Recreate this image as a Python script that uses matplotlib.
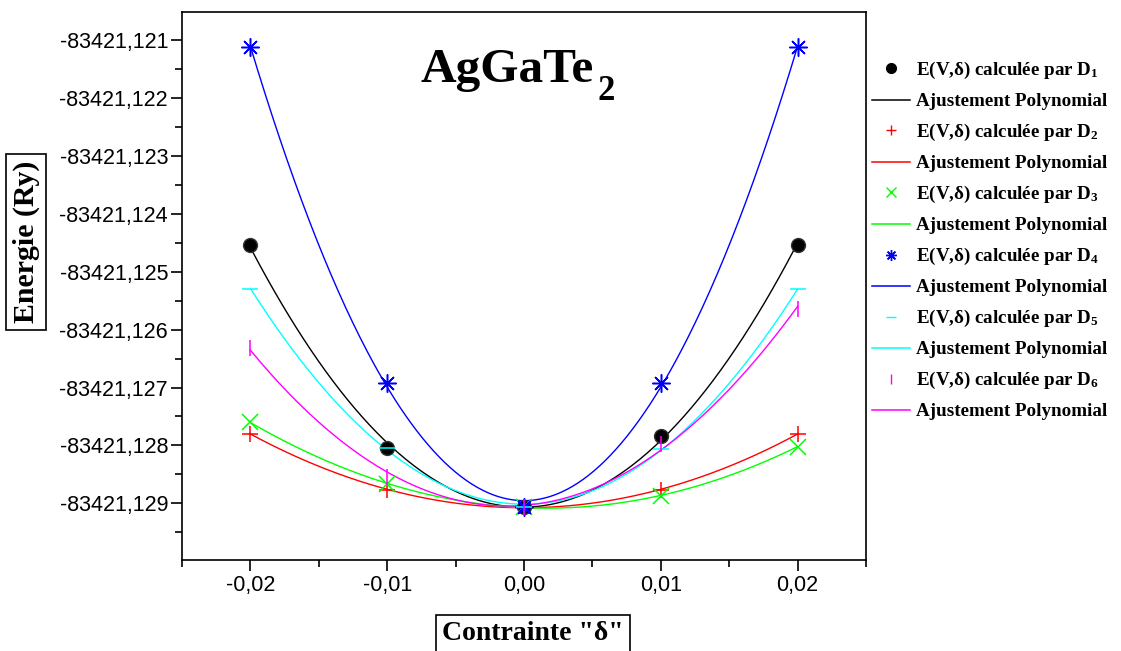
import numpy as np
import matplotlib
matplotlib.use("Agg")
import matplotlib.pyplot as plt
from matplotlib.ticker import MultipleLocator, FuncFormatter
from matplotlib.lines import Line2D

plt.rcParams['mathtext.fontset'] = 'custom'
plt.rcParams['mathtext.rm'] = 'Liberation Serif'
plt.rcParams['mathtext.bf'] = 'Liberation Serif:bold'
plt.rcParams['mathtext.it'] = 'Liberation Serif:italic'

# contrainte delta
delta = [-0.02, -0.01, 0.00, 0.01, 0.02]

# energies (Ry) for each deformation D1..D6
E_D1 = [-83421.12454, -83421.12804, -83421.12906, -83421.12784, -83421.12454]
E_D2 = [-83421.12780, -83421.12877, -83421.12906, -83421.12877, -83421.12780]
E_D3 = [-83421.12760, -83421.12867, -83421.12906, -83421.12887, -83421.12802]
E_D4 = [-83421.12112, -83421.12692, -83421.12906, -83421.12692, -83421.12112]
E_D5 = [-83421.12530, -83421.12804, -83421.12906, -83421.12807, -83421.12530]
E_D6 = [-83421.12631, -83421.12854, -83421.12906, -83421.12797, -83421.12565]

series = [E_D1, E_D2, E_D3, E_D4, E_D5, E_D6]
colors = ['black', '#ff0000', '#00ff00', '#0000ff', '#00ffff', '#ff00ff']
markers = ['o', '+', 'x', (8, 2, 0), '_', '|']
msizes = [10, 11, 11, 13, 12, 12]

fig = plt.figure(figsize=(11.21, 6.51), dpi=100)
ax = fig.add_axes([182 / 1121, 1 - 560 / 651, (866 - 182) / 1121, (560 - 12) / 651])

xs = np.linspace(-0.02, 0.02, 300)
handles = []
for i, (E, c, m, ms) in enumerate(zip(series, colors, markers, msizes)):
    coef = np.polyfit(delta, np.array(E) + 83421.0, 2)
    ax.plot(xs, np.polyval(coef, xs) - 83421.0, color=c, lw=1.0)
    if m == 'o':
        ax.plot(delta, E, ls='none', marker='o', ms=ms, mfc='black', mec='#333333', zorder=5)
    else:
        ax.plot(delta, E, ls='none', marker=m, ms=ms, mec=c, mfc=c, mew=1.1, zorder=5)
    handles.append(Line2D([], [], ls='none', marker=m, color=c, ms=ms * 0.6 if m != 'o' else 7, mew=1.0))
    handles.append(Line2D([], [], color=c, lw=1.1))

labels = []
for k in range(1, 7):
    labels.append(r'E(V,δ) calculée par D$_\mathbf{%d}$' % k)
    labels.append('Ajustement Polynomial')

ax.set_xlim(-0.025, 0.025)
ax.set_ylim(-83421.12998, -83421.12051)

ax.xaxis.set_major_locator(MultipleLocator(0.01))
ax.xaxis.set_minor_locator(MultipleLocator(0.005))
ax.yaxis.set_major_locator(MultipleLocator(0.001))
ax.yaxis.set_minor_locator(MultipleLocator(0.0005))


def fx(v, pos):
    if abs(v) < 1e-9:
        v = 0.0
    return f"{v:.2f}".replace('.', ',')


def fy(v, pos):
    return f"{v:.3f}".replace('.', ',')


ax.xaxis.set_major_formatter(FuncFormatter(fx))
ax.yaxis.set_major_formatter(FuncFormatter(fy))
ax.tick_params(which='both', direction='out', top=False, right=False, width=1.2)
ax.tick_params(which='major', length=8, labelsize=15.5)
ax.tick_params(axis='y', which='major', pad=2)
ax.tick_params(axis='x', which='major', pad=3)
ax.tick_params(which='minor', length=5)
for lab in ax.get_xticklabels() + ax.get_yticklabels():
    lab.set_fontfamily('Liberation Sans')
for s in ax.spines.values():
    s.set_linewidth(1.2)

box = dict(boxstyle='square,pad=0.22', fc='white', ec='black', lw=1.2)
ax.set_ylabel('Energie (Ry)', fontfamily='Liberation Serif', fontweight='bold',
              fontsize=21.5, bbox=box)
ax.yaxis.set_label_coords(-0.208, 0.58)
ax.set_xlabel('Contrainte "δ"', fontfamily='Liberation Serif', fontweight='bold',
              fontsize=20, bbox=box)
ax.xaxis.set_label_coords(0.513, -0.112)

ax.text(0.348, 0.872, 'AgGaTe', transform=ax.transAxes, ha='left', va='baseline',
        fontfamily='Liberation Serif', fontweight='bold', fontsize=35.5)
ax.text(0.607, 0.84, '2', transform=ax.transAxes, ha='left', va='baseline',
        fontfamily='Liberation Serif', fontweight='bold', fontsize=25)

fig.legend(handles, labels, loc='upper left', bbox_to_anchor=(872 / 1121, 1 - 60 / 651),
           frameon=False, borderpad=0, borderaxespad=0, handlelength=2.0, handletextpad=0.3,
           labelspacing=0.62, prop={'family': 'Liberation Serif', 'weight': 'bold', 'size': 13.7})

fig.savefig('out.png', dpi=100)
